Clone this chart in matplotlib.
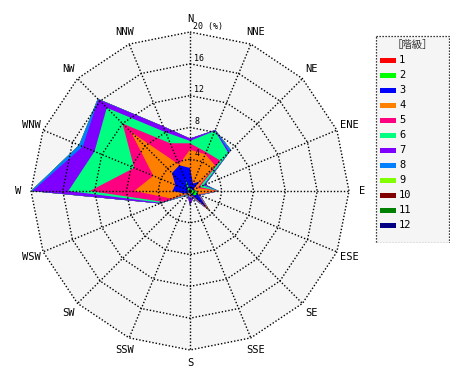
import numpy as np
import matplotlib
matplotlib.use("Agg")
from matplotlib import pyplot as plt
from matplotlib.patches import Polygon, Rectangle

# 16 bearings, clockwise from north
directions = ["N", "NNE", "NE", "ENE", "E", "ESE", "SE", "SSE",
              "S", "SSW", "SW", "WSW", "W", "WNW", "NW", "NNW"]

# frequency (%) of each class per bearing
class_1 = [0.1, 0.1, 0.1, 0.1, 0.2, 0.2, 0.2, 0.1, 0.1, 0.1, 0.1, 0.1, 0.1, 0.1, 0.1, 0.2]
class_2 = [0.1, 0.1, 0.2, 0.2, 0.6, 0.8, 0.6, 0.2, 0.1, 0.1, 0.2, 0.1, 0.1, 0.2, 0.3, 1.5]
class_3 = [2.7, 0.8, 1.4, 0.1, 0.1, 0.1, 2.2, 0.3, 0.1, 0.1, 0.1, 0.6, 2.0, 1.7, 2.8, 1.8]
class_4 = [2.3, 4.0, 2.8, 0.6, 2.5, 0.0, 0.5, 0.1, 0.3, 0.1, 0.1, 1.7, 4.8, 3.0, 7.3, 0.1]
class_5 = [0.8, 0.3, 0.9, 0.3, 0.2, 0.1, 0.0, 0.1, 0.1, 0.1, 0.1, 1.1, 5.6, 2.6, 1.5, 2.9]
class_6 = [0.3, 2.9, 1.4, 0.5, 0.0, 0.1, 0.0, 0.1, 0.1, 0.1, 0.2, 0.3, 2.7, 5.4, 2.8, 1.5]
class_7 = [0.3, 0.1, 0.2, 0.2, 0.0, 0.1, 0.0, 0.1, 1.0, 0.1, 0.1, 0.2, 4.5, 1.6, 1.5, 0.8]
class_8 = [0.0, 0.0, 0.3, 0.1, 0.0, 0.0, 0.0, 0.0, 0.0, 0.0, 0.0, 0.0, 0.2, 0.5, 0.1, 0.0]
class_9 = [0.0] * 16
class_10 = [0.0] * 16
class_11 = [0.0] * 16
class_12 = [0.0] * 16

class_labels = ["1", "2", "3", "4", "5", "6", "7", "8", "9", "10", "11", "12"]
class_colors = ["#FF0000", "#00FF00", "#0000FF", "#FF8000", "#FF0080", "#00FF80",
                "#8000FF", "#0080FF", "#80FF00", "#800000", "#008000", "#000080"]
rings = [4, 8, 12, 16, 20]
legend_title = "［階級］"

W, H = 470, 380
cx, cy = 190, 191          # centre of the rose, px from top-left
px_per_unit = 7.95
half = 23.5                # half-width of the plot axes in %

fig = plt.figure(figsize=(W / 100, H / 100), dpi=100)
fig.patch.set_facecolor("white")

# main axes, data units = %
size_px = 2 * half * px_per_unit
ax = fig.add_axes([(cx - half * px_per_unit) / W,
                   (H - cy - half * px_per_unit) / H,
                   size_px / W, size_px / H])
ax.set_xlim(-half, half)
ax.set_ylim(-half, half)
ax.axis("off")

theta = np.radians(np.arange(16) * 22.5)
sx, sy = np.sin(theta), np.cos(theta)

def ring_xy(r):
    r = np.asarray(r, dtype=float)
    return np.column_stack([r * sx, r * sy])

# background of plotting area
rmax = rings[-1]
ax.add_patch(Polygon(ring_xy(np.full(16, rmax)), closed=True,
                     facecolor="#F5F5F5", edgecolor="none", zorder=0))

# stacked polygons: largest cumulative first, class 1 on top
table = np.array([class_1, class_2, class_3, class_4, class_5, class_6,
                  class_7, class_8, class_9, class_10, class_11, class_12])
cum = np.cumsum(table, axis=0)
for k in range(len(class_labels) - 1, -1, -1):
    ax.add_patch(Polygon(ring_xy(cum[k]), closed=True, facecolor=class_colors[k],
                         edgecolor="none", zorder=1 + (12 - k) * 0.01))

# polygonal grid
dots = dict(color="black", lw=1.0, linestyle=(0, (1, 1.4)), zorder=3)
for r in rings:
    pts = ring_xy(np.full(16, r))
    pts = np.vstack([pts, pts[:1]])
    ax.plot(pts[:, 0], pts[:, 1], **dots)
for i in range(16):
    ax.plot([0, rmax * sx[i]], [0, rmax * sy[i]], **dots)

# ring labels along the north spoke
mono = "DejaVu Sans Mono"
for r in rings[:-1]:
    ax.text(0.55, r + 0.15, str(r), fontsize=6, family=mono,
            ha="left", va="bottom", zorder=4)
ax.text(0.35, rmax + 0.1, "20 (%)", fontsize=6, family=mono,
        ha="left", va="bottom", zorder=4)

# bearing labels
rl = 21.65
for i, name in enumerate(directions):
    ax.text(rl * sx[i], rl * sy[i], name, fontsize=7.5, family=mono,
            ha="center", va="center")

# legend box in pixel units
lx0, ly0, lx1, ly1 = 375, 35, 450, 243
lax = fig.add_axes([lx0 / W, (H - ly1) / H, (lx1 - lx0) / W, (ly1 - ly0) / H])
lax.set_xlim(0, lx1 - lx0)
lax.set_ylim(ly1 - ly0, 0)
lax.axis("off")
lax.add_patch(Rectangle((0.5, 0.5), lx1 - lx0 - 1, ly1 - ly0 - 1,
                        facecolor="#F5F5F5", edgecolor="black", lw=0.9,
                        linestyle=(0, (1, 1.4))))
lax.text(37.5, 10, legend_title, fontsize=7.5, color="#333333",
         family=["Noto Sans CJK JP", "DejaVu Sans"], ha="center", va="center")
for k, (lab, col) in enumerate(zip(class_labels, class_colors)):
    y = 25 + k * 15
    lax.add_patch(Rectangle((5, y - 2), 16, 4.5, facecolor=col, edgecolor="none"))
    lax.text(24, y, lab, fontsize=7.5, family=mono, ha="left", va="center")

fig.savefig("out.png", dpi=100)
